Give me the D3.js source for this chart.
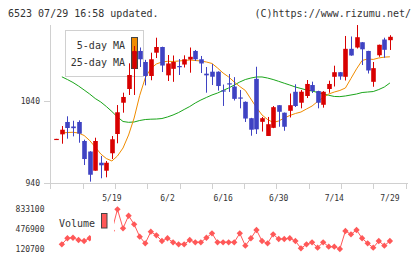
<!DOCTYPE html>
<html><head><meta charset="utf-8">
<script src="https://cdn.jsdelivr.net/npm/d3@7"></script>
<style>body{margin:0;background:#fff}svg{display:block}</style>
</head><body><svg id="c" width="420" height="259"></svg>
<script>
const dates = ["5/1","5/2","5/7","5/8","5/9","5/12","5/13","5/14","5/15","5/16",
"5/19","5/20","5/21","5/22","5/23","5/26","5/27","5/28","5/29","5/30",
"6/2","6/3","6/4","6/5","6/6","6/9","6/10","6/11","6/12","6/13",
"6/16","6/17","6/18","6/19","6/20","6/23","6/24","6/25","6/26","6/27",
"6/30","7/1","7/2","7/3","7/4","7/7","7/8","7/9","7/10","7/11",
"7/14","7/15","7/16","7/17","7/18","7/22","7/23","7/24","7/25","7/28","7/29"];
const open  = [993,999.5,1014.5,1009,1014.5,991.4,978.6,955.3,965,955.3,976.5,999.9,1037.9,1054.6,1079.7,1100.8,1087.4,1070.4,1098.7,1105.6,1071.2,1079.1,1082.5,1084.3,1090.4,1100.8,1090.7,1073.2,1075.6,1075.6,1052.9,1061.5,1057.6,1044.3,1039,1019.1,1066.9,1014.7,997.5,1007.4,1034.9,1025.8,1028.1,1051.2,1037.9,1046.1,1059.4,1052.1,1035.4,1054.6,1069.4,1075,1069.4,1103.4,1105,1111.4,1100.8,1063.3,1095.6,1114.7,1113.9];
const high  = [994,1009.6,1021.4,1016,1016.5,993,979,995.4,973.2,967.1,997.5,1035.1,1050.1,1085.8,1106.8,1105,1090,1098.7,1116.9,1106,1095.9,1095.3,1091,1095.5,1105,1102,1094.7,1081.3,1085,1076,1060,1072.8,1069,1053.4,1039.5,1019.5,1081.6,1020.6,1020.6,1033.9,1035,1026,1049.1,1060.3,1053.4,1065.5,1063.5,1052.5,1052,1064.7,1082.9,1075.2,1119,1118.4,1132.3,1111.6,1101,1087.4,1108.5,1116.9,1120];
const low   = [993,988.1,994.2,997,989.3,962.2,942,955.3,946.1,947.3,969.5,988.6,1025.8,1047.3,1047.3,1081.3,1059,1065.2,1092.2,1075.2,1064.3,1063.3,1071.6,1080.7,1074.4,1088.6,1074,1050.1,1059.4,1052.6,1034,1051,1040.6,1031.1,1014.5,997.8,999.9,1002.9,997.5,1007,1008.7,1003.8,1020,1032.7,1031.1,1043.6,1049.7,1031.1,1031.9,1050,1057.6,1065.8,1064.9,1095,1103.8,1083.7,1073.4,1057.3,1093.7,1092.5,1102];
const close = [994,1005.1,1007.2,1007,1000.3,969.5,950.4,991.4,961.9,965,993.5,1026.3,1044.9,1071.6,1100.8,1090.7,1070.4,1090.7,1105.6,1083.1,1085.6,1087.4,1081.3,1090.7,1093.7,1090.7,1085.6,1071.2,1069.5,1058.2,1052.2,1060.3,1042.6,1043,1018.7,1005.1,1005.6,1019.1,1011.8,1032.5,1026.9,1008.7,1034.9,1033.9,1051.3,1060.7,1052.1,1037.9,1051.2,1060.7,1075,1069.8,1103.4,1095.3,1117.5,1102.8,1077.1,1079.9,1108.3,1102.2,1118];
const ma5 = [null,1001.1,1001.7,1002,1001.1,998.1,992,984.1,975.6,970.1,967.1,973.2,982.9,998.7,1019.3,1046.7,1068,1079.5,1085,1087.4,1088.2,1088,1088.6,1089.2,1089.8,1089.2,1088.6,1087.4,1085.6,1080.1,1074,1069.2,1063.1,1057.6,1052.8,1042.4,1032.1,1023,1017.5,1013.9,1015.7,1019.3,1022.4,1024.8,1026.6,1030.3,1033.9,1039.4,1044.2,1048.5,1050.9,1052.8,1055.8,1067.4,1079,1089.2,1091.1,1090.5,1092.3,1093.3,1093.7];
const ma25 = [null,1069.4,1066.1,1062.5,1058.2,1053.4,1048.5,1043,1038.8,1033.3,1027.2,1020.6,1015.1,1014.1,1014.5,1016.3,1017.5,1017.9,1018.1,1018.7,1020.6,1023,1026,1029.7,1033.3,1037.6,1041.2,1044.3,1047.3,1049.7,1052.8,1055.8,1059.4,1063.1,1066.1,1067.9,1069.2,1069.2,1067.9,1066.1,1063.9,1061.6,1059.4,1057,1055.2,1053.4,1052.2,1050.3,1048.5,1047,1045.5,1045.3,1046.1,1047.3,1048.5,1050.3,1050.9,1051.5,1053.9,1057,1061.9];
const volume = [null,205000,313000,323000,282000,264000,313000,350000,400000,300000,450000,833100,492000,718000,564000,342000,223000,431000,366000,264000,313000,241000,205000,205000,282000,241000,241000,323000,402000,241000,241000,241000,241000,402000,180000,313000,462000,264000,223000,384000,300000,300000,313000,264000,133000,205000,241000,144000,241000,162000,162000,120700,444000,384000,462000,313000,223000,144000,264000,180000,264000];
const dateTicks = ["5/19","6/2","6/16","6/30","7/14","7/29"];
const priceTicks = [940,1040];
const volTicks = [833100,476900,120700];
const title = "6523 07/29 16:58 updated.";
const credit = "(C)https://www.rizumu.net/";
const legendItems = ["5-day MA","25-day MA"];

const RED="#d80000", BLUE="#3f43c3", ORANGE="#f08c00", GREEN="#1aa51a", VOL="#ff5858", AX="#d0d0d0";
const FONT="'DejaVu Sans Mono', monospace";
const svg = d3.select("#c");
const x = d3.scalePoint().domain(dates).range([56.3, 389.9]);
const y = d3.scaleLinear().domain([940,1040]).range([183.3,101]);
const yv = d3.scaleLinear().domain([120700,833100]).range([249,209.3]);

// title
svg.append("text").attr("x",8).attr("y",16.5).attr("font-family",FONT).attr("font-size",10).attr("fill","#333").text(title);
svg.append("text").attr("x",411).attr("y",16.5).attr("text-anchor","end").attr("font-family",FONT).attr("font-size",10).attr("fill","#333").text(credit);

// axes
const g = svg.append("g");
g.append("line").attr("x1",50.5).attr("x2",50.5).attr("y1",25).attr("y2",189).attr("stroke",AX);
g.append("line").attr("x1",44).attr("x2",408).attr("y1",183.5).attr("y2",183.5).attr("stroke",AX);
const gridX = d3.scaleLinear().domain([0,11]).range([50.5,405.5]);
d3.range(1,12).forEach(i=>{
  g.append("line").attr("x1",Math.round(gridX(i))+0.5).attr("x2",Math.round(gridX(i))+0.5).attr("y1",183).attr("y2",189).attr("stroke",AX);
});
priceTicks.forEach(p=>{
  g.append("line").attr("x1",44).attr("x2",50).attr("y1",Math.round(y(p))+0.5).attr("y2",Math.round(y(p))+0.5).attr("stroke",AX);
  g.append("text").attr("x",40).attr("y",y(p)+2.8).attr("text-anchor","end").attr("font-family",FONT).attr("font-size",8).attr("fill","#333").text(p);
});
dateTicks.forEach(d=>{
  g.append("text").attr("x",x(d)).attr("y",200.5).attr("text-anchor","middle").attr("font-family",FONT).attr("font-size",8).attr("fill","#333").text(d);
});

// legend (drawn under candles)
const lg = svg.append("g");
lg.append("rect").attr("x",65.5).attr("y",30.5).attr("width",78).attr("height",46).attr("fill","#fff").attr("stroke","#d0d0d0");
lg.append("text").attr("x",125).attr("y",49.2).attr("text-anchor","end").attr("font-family",FONT).attr("font-size",10).attr("fill","#333").text(legendItems[0]);
lg.append("text").attr("x",125).attr("y",65.7).attr("text-anchor","end").attr("font-family",FONT).attr("font-size",10).attr("fill","#333").text(legendItems[1]);
lg.append("rect").attr("x",131.5).attr("y",37.5).attr("width",6).attr("height",15).attr("fill",ORANGE).attr("stroke","#444");
lg.append("rect").attr("x",131.5).attr("y",53.5).attr("width",6).attr("height",15).attr("fill",GREEN).attr("stroke","#444");

// MA lines
const idx = d3.range(dates.length);
const line = arr => d3.line().defined(i=>arr[i]!=null).x(i=>x(dates[i])).y(i=>y(arr[i]));
svg.append("path").attr("d",line(ma25)(idx)).attr("fill","none").attr("stroke",GREEN).attr("stroke-width",1);
svg.append("path").attr("d",line(ma5)(idx)).attr("fill","none").attr("stroke",ORANGE).attr("stroke-width",1);

// candles
const W = 4.6;
const cg = svg.append("g");
idx.forEach(i=>{
  const cx = Math.round(x(dates[i]))+0.5;
  const up = close[i] >= open[i];
  const col = up ? RED : BLUE;
  cg.append("line").attr("x1",cx).attr("x2",cx).attr("y1",y(high[i])).attr("y2",y(low[i])).attr("stroke",col).attr("stroke-width",1);
  const top = y(Math.max(open[i],close[i])), bot = y(Math.min(open[i],close[i]));
  cg.append("rect").attr("x",cx-W/2).attr("y",top).attr("width",W).attr("height",Math.max(1.2,bot-top)).attr("fill",col);
});

// volume
const vline = d3.line().defined(i=>volume[i]!=null).x(i=>x(dates[i])).y(i=>yv(volume[i]));
const vg = svg.append("g");
vg.append("path").attr("d",vline(idx)).attr("fill","none").attr("stroke",VOL).attr("stroke-width",1);
vg.selectAll("path.d").data(idx.filter(i=>volume[i]!=null)).enter().append("path")
  .attr("class","d").attr("d",d3.symbol(d3.symbolSquare,20)())
  .attr("transform",i=>`translate(${x(dates[i])},${yv(volume[i])}) rotate(45)`).attr("fill",VOL);
vg.append("rect").attr("x",91).attr("y",204).attr("width",23).attr("height",50).attr("fill","#fff");
vg.append("text").attr("x",59).attr("y",226.5).attr("font-family",FONT).attr("font-size",10).attr("fill","#333").text("Volume");
vg.append("rect").attr("x",101.5).attr("y",213.5).attr("width",5.5).attr("height",14.5).attr("fill",VOL).attr("stroke","#444");
volTicks.forEach(v=>{
  vg.append("text").attr("x",44.5).attr("y",yv(v)+2.8).attr("text-anchor","end").attr("font-family",FONT).attr("font-size",8).attr("fill","#333").text(v);
});
</script></body></html>
